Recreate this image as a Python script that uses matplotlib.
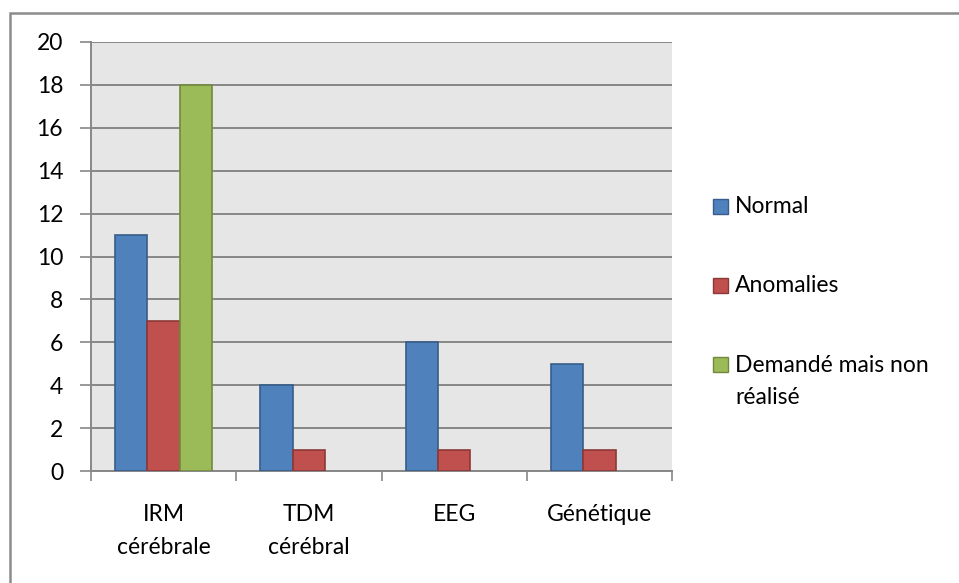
import matplotlib.pyplot as plt
import numpy as np
from matplotlib.patches import Rectangle

categories = ["IRM\ncérébrale", "TDM\ncérébral", "EEG", "Génétique"]
series_names = ["Normal", "Anomalies", "Demandé mais non\nréalisé"]
normal = [11, 4, 6, 5]
anomalies = [7, 1, 1, 1]
demande = [18, 0, 0, 0]
yticks = list(range(0, 21, 2))

fills = ["#4F81BD", "#C0504D", "#9BBB59"]
edges = ["#385D8A", "#8C3836", "#71893F"]
grid_c = "#878787"
fs = 16.5

plt.rcParams["font.family"] = ["Lato", "DejaVu Sans"]

fig = plt.figure(figsize=(9.59, 5.83), dpi=100)
W, H = 959, 583

# chart frame (only top/left edges fall inside the canvas)
fig.patches.append(Rectangle((10 / W, -0.1), 1.2, 1.1 - 13 / H, transform=fig.transFigure,
                             fill=False, edgecolor="#8C8C8C", linewidth=1.8))

ax = fig.add_axes([91 / W, (H - 471) / H, 581 / W, 429 / H])
ax.set_facecolor("#E6E6E6")

x = np.arange(len(categories))
bw = 1 / 4.5
values = [normal, anomalies, demande]
for i, vals in enumerate(values):
    lw = [1.2 if v > 0 else 0 for v in vals]
    ax.bar(x + (i - 1) * bw, vals, width=bw, color=fills[i], edgecolor=edges[i],
           linewidth=lw, zorder=3)

ax.set_xlim(-0.5, len(categories) - 0.5)
ax.set_ylim(0, 20)
ax.set_yticks(yticks)
ax.set_yticklabels([str(t) for t in yticks], fontsize=fs)
ax.yaxis.grid(True, color=grid_c, linewidth=1.4, zorder=1)
ax.set_axisbelow(True)

ax.set_xticks(np.arange(len(categories) + 1) - 0.5)
ax.set_xticklabels([])
ax.set_xticks(x, minor=True)
ax.set_xticklabels(categories, minor=True, fontsize=fs, linespacing=1.7)
ax.tick_params(axis="x", which="minor", length=0, pad=24)
ax.tick_params(axis="x", which="major", length=7, width=1.2, color=grid_c)
ax.tick_params(axis="y", length=8, width=1.2, color=grid_c, pad=12)

for s in ["top", "right"]:
    ax.spines[s].set_visible(False)
for s in ["left", "bottom"]:
    ax.spines[s].set_color(grid_c)
    ax.spines[s].set_linewidth(1.4)

# legend on the right
leg_y = [206, 285, 364]
for i, name in enumerate(series_names):
    sz = 15
    fig.patches.append(Rectangle((713 / W, (H - leg_y[i] - sz / 2) / H), sz / W, sz / H,
                                 transform=fig.transFigure, facecolor=fills[i],
                                 edgecolor=edges[i], linewidth=1.0))
    if "\n" in name:
        fig.text(735 / W, (H - leg_y[i] + 9) / H, name, fontsize=fs, va="top",
                 ha="left", linespacing=1.65)
    else:
        fig.text(735 / W, (H - leg_y[i]) / H, name, fontsize=fs, va="center", ha="left")

fig.savefig("out.png", dpi=100)
